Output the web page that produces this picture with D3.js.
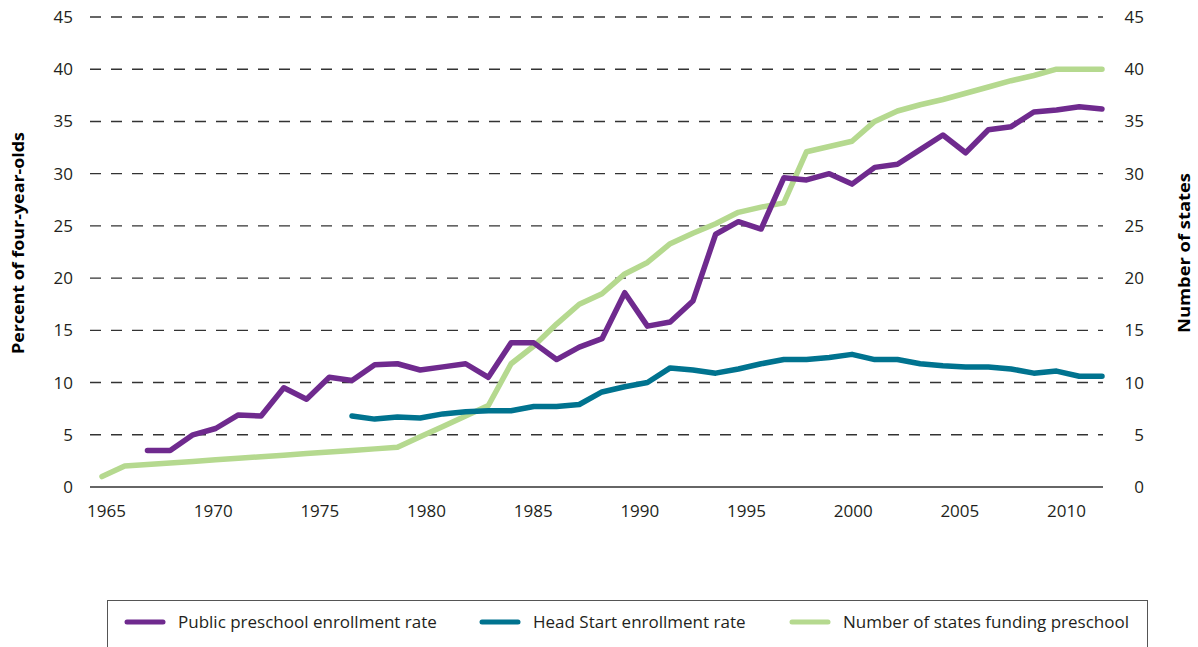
<!DOCTYPE html>
<html>
<head>
<meta charset="utf-8">
<script src="https://cdn.jsdelivr.net/npm/d3@7"></script>
<style>
  body { margin: 0; background: #fff; }
  svg { display: block; font-family: "Open Sans", sans-serif; }
</style>
</head>
<body>
<div id="chart"></div>
<script>
// data points, one per year slot
var years = [1965, 1966, 1967, 1968, 1969, 1970, 1971, 1972, 1973, 1974,
             1975, 1976, 1977, 1978, 1979, 1980, 1981, 1982, 1983, 1984,
             1985, 1986, 1987, 1988, 1989, 1990, 1991, 1992, 1993, 1994,
             1995, 1996, 1997, 1998, 1999, 2000, 2001, 2002, 2003, 2004,
             2005, 2006, 2007, 2008, 2009];

var publicRate = [null, null, 3.5, 3.5, 5.0, 5.6, 6.9, 6.8, 9.5, 8.4,
                  10.5, 10.2, 11.7, 11.8, 11.2, 11.5, 11.8, 10.5, 13.8, 13.8,
                  12.2, 13.4, 14.2, 18.6, 15.4, 15.8, 17.8, 24.2, 25.4, 24.7,
                  29.6, 29.4, 30.0, 29.0, 30.6, 30.9, 32.3, 33.7, 32.0, 34.2,
                  34.5, 35.9, 36.1, 36.4, 36.2];

var headStartRate = [null, null, null, null, null, null, null, null, null, null,
                     null, 6.8, 6.5, 6.7, 6.6, 7.0, 7.2, 7.3, 7.3, 7.7,
                     7.7, 7.9, 9.1, 9.6, 10.0, 11.4, 11.2, 10.9, 11.3, 11.8,
                     12.2, 12.2, 12.4, 12.7, 12.2, 12.2, 11.8, 11.6, 11.5, 11.5,
                     11.3, 10.9, 11.1, 10.6, 10.6];

var statesFunding = [1.0, 2.0, 2.15, 2.3, 2.45, 2.6, 2.75, 2.9, 3.05, 3.2,
                     3.35, 3.5, 3.65, 3.8, 4.8, 5.8, 6.8, 7.8, 11.8, 13.5,
                     15.6, 17.5, 18.5, 20.4, 21.5, 23.3, 24.3, 25.2, 26.3, 26.8,
                     27.2, 32.1, 32.6, 33.1, 35.0, 36.0, 36.6, 37.1, 37.7, 38.3,
                     38.9, 39.4, 40, 40, 40];

var xTickLabels = [1965, 1970, 1975, 1980, 1985, 1990, 1995, 2000, 2005, 2010];
var yTicks = [0, 5, 10, 15, 20, 25, 30, 35, 40, 45];

var seriesNames = ["Public preschool enrollment rate", "Head Start enrollment rate", "Number of states funding preschool"];
var seriesColors = ["#6f2a8e", "#00738f", "#b5d98f"];

var width = 1198, height = 647;

var svg = d3.select("#chart").append("svg")
  .attr("width", width)
  .attr("height", height);

var plotLeft = 90, plotRight = 1103;

// data position scale and the label scale differ in the source chart
var x = d3.scaleLinear().domain([1965, 2009]).range([102, 1102]);
var xLabel = d3.scaleLinear().domain([1965, 2010]).range([106, 1066]);
var yLeft = d3.scaleLinear().domain([0, 45]).range([487, 17]);
var yRight = d3.scaleLinear().domain([0, 45]).range([487, 17]);

// gridlines
svg.append("g")
  .selectAll("line")
  .data(yTicks)
  .enter().append("line")
    .attr("x1", plotLeft)
    .attr("x2", plotRight)
    .attr("y1", function(d) { return yLeft(d); })
    .attr("y2", function(d) { return yLeft(d); })
    .style("stroke", function(d) { return d == 0 ? "#666" : "#333"; })
    .style("stroke-width", function(d) { return d == 0 ? 2 : 1.4; })
    .style("stroke-dasharray", function(d) { return d == 0 ? null : "11,10"; });

// left axis labels
var leftAxis = svg.append("g")
  .attr("transform", "translate(73,0)")
  .call(d3.axisLeft(yLeft).tickValues(yTicks).tickSize(0).tickPadding(0));
leftAxis.select(".domain").remove();
leftAxis.selectAll("text")
  .style("font-family", "Open Sans")
  .style("font-size", "17px")
  .style("fill", "#231f20");

// right axis labels
var rightAxis = svg.append("g")
  .attr("transform", "translate(1144,0)")
  .call(d3.axisLeft(yRight).tickValues(yTicks).tickSize(0).tickPadding(0));
rightAxis.select(".domain").remove();
rightAxis.selectAll("text")
  .style("font-family", "Open Sans")
  .style("font-size", "17px")
  .style("fill", "#231f20");

// bottom axis labels
var bottomAxis = svg.append("g")
  .attr("transform", "translate(0,505)")
  .call(d3.axisBottom(xLabel).tickValues(xTickLabels).tickFormat(d3.format("d")).tickSize(0).tickPadding(0));
bottomAxis.select(".domain").remove();
bottomAxis.selectAll("text")
  .style("font-family", "Open Sans")
  .style("font-size", "17px")
  .style("fill", "#231f20");

// axis titles
svg.append("text")
  .attr("transform", "translate(24,243) rotate(-90)")
  .style("text-anchor", "middle")
  .style("font-family", "Open Sans")
  .style("font-weight", "bold")
  .style("font-size", "16px")
  .attr("textLength", 222)
  .attr("lengthAdjust", "spacingAndGlyphs")
  .style("fill", "#000")
  .text("Percent of four-year-olds");

svg.append("text")
  .attr("transform", "translate(1190,253) rotate(-90)")
  .style("text-anchor", "middle")
  .style("font-family", "Open Sans")
  .style("font-weight", "bold")
  .style("font-size", "16px")
  .attr("textLength", 160)
  .attr("lengthAdjust", "spacingAndGlyphs")
  .style("fill", "#000")
  .text("Number of states");

// lines
var allSeries = [
  { values: publicRate, y: yLeft },
  { values: headStartRate, y: yLeft },
  { values: statesFunding, y: yRight }
];

var drawOrder = [2, 1, 0];
drawOrder.forEach(function(k) {
  var s = allSeries[k];
  var line = d3.line()
    .defined(function(d) { return d != null; })
    .x(function(d, i) { return x(years[i]); })
    .y(function(d) { return s.y(d); });
  svg.append("path")
    .datum(s.values)
    .attr("d", line)
    .style("fill", "none")
    .style("stroke", seriesColors[k])
    .style("stroke-width", 5.5)
    .style("stroke-linecap", "round")
    .style("stroke-linejoin", "round");
});

// legend
var legend = svg.append("g");
legend.append("rect")
  .attr("x", 107.5)
  .attr("y", 600.5)
  .attr("width", 1040)
  .attr("height", 80)
  .style("fill", "none")
  .style("stroke", "#555")
  .style("stroke-width", 1);

var legendX = [125, 480, 790];
seriesNames.forEach(function(name, i) {
  legend.append("line")
    .attr("x1", legendX[i] + 2)
    .attr("x2", legendX[i] + 38)
    .attr("y1", 622)
    .attr("y2", 622)
    .style("stroke", seriesColors[i])
    .style("stroke-width", 5)
    .style("stroke-linecap", "round");
  legend.append("text")
    .attr("x", legendX[i] + 53)
    .attr("y", 628)
    .style("font-family", "Open Sans")
    .style("font-size", "17px")
    .style("fill", "#231f20")
    .text(name);
});
</script>
</body>
</html>
